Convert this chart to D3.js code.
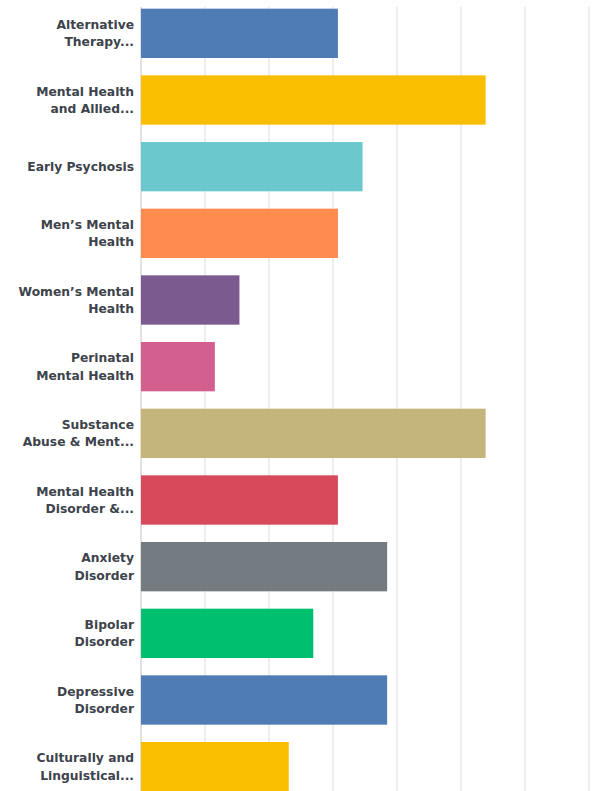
<!DOCTYPE html>
<html>
<head>
<meta charset="utf-8">
<script src="https://cdn.jsdelivr.net/npm/d3@7"></script>
<style>
  body { margin: 0; background: #fff; }
  svg { display: block; }
</style>
</head>
<body>
<div id="chart"></div>
<script>
const width = 597;
const height = 791;

// DATA
// category labels (line breaks where the chart wraps them)
const categories = [
  "Alternative\nTherapy...",
  "Mental Health\nand Allied...",
  "Early Psychosis",
  "Men\u2019s Mental\nHealth",
  "Women\u2019s Mental\nHealth",
  "Perinatal\nMental Health",
  "Substance\nAbuse & Ment...",
  "Mental Health\nDisorder &...",
  "Anxiety\nDisorder",
  "Bipolar\nDisorder",
  "Depressive\nDisorder",
  "Culturally and\nLinguistical..."
];
// percent of respondents
const values = [30.77, 53.85, 34.62, 30.77, 15.38, 11.54, 53.85, 30.77, 38.46, 26.92, 38.46, 23.08];
const colors = ["#507cb6", "#f9be00", "#6bc8cd", "#ff8b4f", "#7b5a8f", "#d35f8f",
                "#c4b67a", "#d8495b", "#747c82", "#00bf6f", "#507cb6", "#f9be00"];
const ticks = [0, 10, 20, 30, 40, 50, 60, 70];

const data = categories.map((c, i) => ({ label: c, value: values[i], color: colors[i] }));

// SCALES
const xScale = d3.scaleLinear()
  .domain([0, 70])
  .range([141, 589]);

const yScale = d3.scaleBand()
  .domain(data.map(d => d.label))
  .range([0, 800])
  .paddingInner(0.26)
  .paddingOuter(0.13);

const svg = d3.select("#chart")
  .append("svg")
  .attr("width", width)
  .attr("height", height);

// gridlines
svg.append("g")
  .selectAll("line")
  .data(ticks)
  .join("line")
  .attr("x1", d => xScale(d))
  .attr("x2", d => xScale(d))
  .attr("y1", 7)
  .attr("y2", height)
  .attr("stroke", d => d === 0 ? "#e2e2e2" : "#eeeeee")
  .attr("stroke-width", 2);

// bars
svg.append("g")
  .selectAll("rect")
  .data(data)
  .join("rect")
  .attr("x", xScale(0))
  .attr("y", d => yScale(d.label))
  .attr("width", d => xScale(d.value) - xScale(0))
  .attr("height", yScale.bandwidth())
  .attr("fill", d => d.color);

// labels
const labels = svg.append("g")
  .selectAll("text")
  .data(data)
  .join("text")
  .attr("text-anchor", "end")
  .attr("font-family", "'DejaVu Sans', sans-serif")
  .attr("font-weight", 700)
  .attr("font-size", 12.3)
  .attr("fill", "#3d434b")
  .attr("transform", d => `translate(134,${yScale(d.label) + yScale.bandwidth() / 2})`);

labels.each(function(d) {
  const lines = d.label.split("\n");
  const lh = 17.5;
  const start = -(lines.length - 1) * lh / 2;
  d3.select(this).selectAll("tspan")
    .data(lines)
    .join("tspan")
    .attr("x", 0)
    .attr("y", (l, i) => start + i * lh)
    .attr("dy", "0.35em")
    .text(l => l);
});
</script>
</body>
</html>
